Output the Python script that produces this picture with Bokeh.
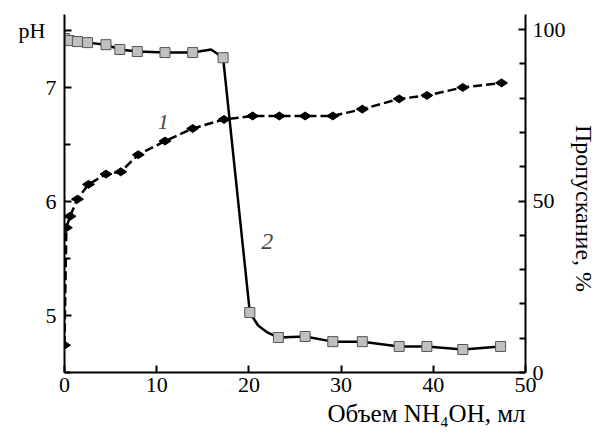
import math
from bokeh.plotting import figure
from bokeh.models import Range1d, LinearAxis, FixedTicker, Label, Title
from bokeh.embed import file_html
from bokeh.resources import INLINE

# Curve 1: pH vs volume NH4OH (left axis)
vol_ph = [0, 0.2, 0.6, 1.4, 2.6, 4.5, 6.1, 8.0, 10.9, 13.9, 17.3, 20.4, 23.3, 26.1, 29.1, 32.3, 36.3, 39.3, 43.2, 47.4]
ph = [4.74, 5.77, 5.87, 6.02, 6.15, 6.24, 6.26, 6.41, 6.53, 6.64, 6.72, 6.75, 6.75, 6.75, 6.75, 6.81, 6.90, 6.93, 7.00, 7.04]

# Curve 2: transmittance, % (right axis) - marker points
vol_tr = [0, 0.5, 1.4, 2.5, 4.5, 6.0, 7.9, 10.9, 13.9, 17.2, 20.1, 23.2, 26.1, 29.1, 32.3, 36.3, 39.3, 43.2, 47.3]
tr = [97.4, 96.8, 96.5, 96.2, 95.6, 94.2, 93.6, 93.3, 93.3, 91.8, 17.5, 10.2, 10.5, 9.0, 9.0, 7.6, 7.6, 6.7, 7.6]

# Curve 2 line trace (including its bends)
vol_tr_line = [0, 0.5, 1.4, 2.5, 4.5, 6.0, 7.9, 10.9, 13.9, 15.9, 17.2, 20.1, 21.0, 22.0, 23.2, 26.1, 29.1, 32.3, 36.3, 39.3, 43.2, 47.3]
tr_line = [97.4, 96.8, 96.5, 96.2, 95.6, 94.2, 93.6, 93.3, 93.3, 94.2, 91.8, 17.5, 13.7, 11.7, 10.2, 10.5, 9.0, 9.0, 7.6, 7.6, 6.7, 7.6]

x_ticks = [0, 10, 20, 30, 40, 50]
ph_ticks = [5, 6, 7, 7.5]
ph_tick_labels = {5: "5", 6: "6", 7: "7", 7.5: "pH\u00a0\u00a0"}
ph_minor = [4.5, 5.5, 6.5]
tr_ticks = [0, 50, 100]
tr_minor = [10, 20, 30, 40, 60, 70, 80, 90]

FONT = "Liberation Serif"

p = figure(width=601, height=436, output_backend="svg", toolbar_location=None,
           x_range=Range1d(0, 50), y_range=Range1d(4.5, 7.64),
           min_border_left=64, min_border_right=75, min_border_top=14, min_border_bottom=64)
p.outline_line_color = None
p.xgrid.visible = False
p.ygrid.visible = False
p.background_fill_color = "white"
p.border_fill_color = "white"

p.extra_y_ranges = {"tr": Range1d(0, 104.4)}
right = LinearAxis(y_range_name="tr")
p.add_layout(right, "right")

p.xaxis.ticker = FixedTicker(ticks=x_ticks, minor_ticks=[])
p.yaxis[0].ticker = FixedTicker(ticks=ph_ticks, minor_ticks=ph_minor)
p.yaxis[0].major_label_overrides = ph_tick_labels
right.ticker = FixedTicker(ticks=tr_ticks, minor_ticks=tr_minor)

for ax in [p.xaxis[0], p.yaxis[0], right]:
    ax.axis_line_width = 2
    ax.axis_line_color = "black"
    ax.major_tick_line_width = 2
    ax.major_tick_line_color = "black"
    ax.minor_tick_line_width = 2
    ax.minor_tick_line_color = "black"
    ax.major_tick_in = 7
    ax.major_tick_out = 0
    ax.minor_tick_in = 6
    ax.minor_tick_out = 0
    ax.major_label_text_font = FONT
    ax.major_label_text_font_size = "22px"
    ax.major_label_text_color = "black"
    ax.major_label_standoff = 8
p.xaxis[0].major_label_standoff = 5
right.major_label_standoff = 7

# curve 1 (dashed with diamonds)
p.line(vol_ph, ph, line_color="black", line_width=2.5, line_dash="9 4")
p.scatter(vol_ph, ph, marker="diamond", size=12, angle=math.pi / 2,
          fill_color="black", line_color="black")

# curve 2 (solid with grey squares)
p.line(vol_tr_line, tr_line, line_color="black", line_width=2.5, y_range_name="tr")
p.scatter(vol_tr, tr, marker="square", size=10, fill_color="#c0c0c0",
          line_color="#555555", line_width=1, y_range_name="tr")

p.add_layout(Label(x=10.7, y=6.70, text="1", text_font=FONT, text_font_style="italic",
                   text_font_size="22px", text_align="center", text_baseline="middle"))
p.add_layout(Label(x=22.0, y=5.65, text="2", text_font=FONT, text_font_style="italic",
                   text_font_size="24px", text_align="center", text_baseline="middle"))

p.add_layout(Title(text="Объем NH₄OH, мл", align="right", offset=0, standoff=6,
                   text_font=FONT, text_font_size="25px", text_font_style="normal",
                   text_color="black"), "below")
p.add_layout(Title(text="\u00a0\u00a0\u00a0\u00a0\u00a0Пропускание, %", align="center", standoff=5,
                   text_font=FONT, text_font_size="24px", text_font_style="normal",
                   text_color="black"), "right")

open("out.html", "w").write(file_html(p, INLINE))
